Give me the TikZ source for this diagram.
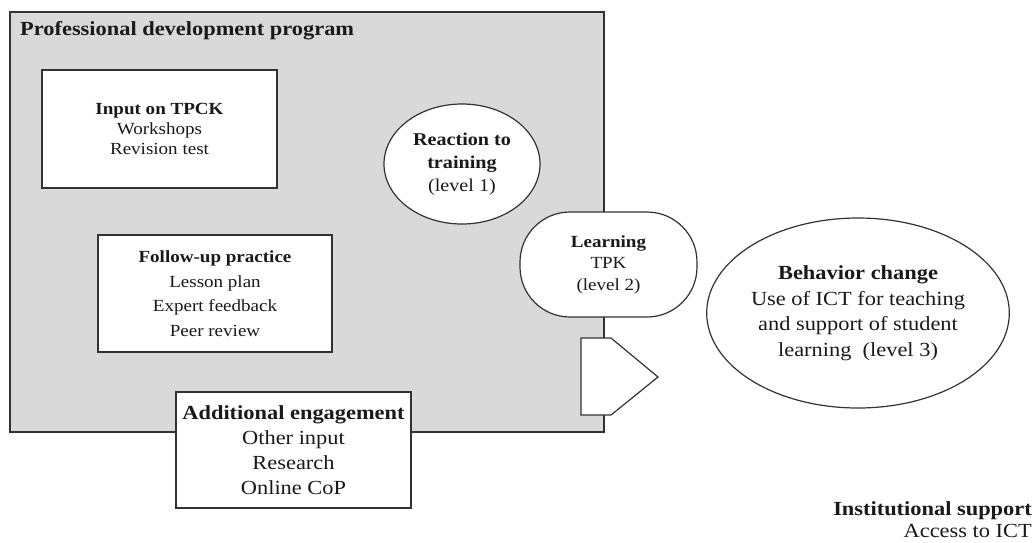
\documentclass[tikz,border=0pt]{standalone}
\usepackage{fontspec}
\setmainfont{Liberation Serif}[FakeStretch=1.12]
\usetikzlibrary{shapes.geometric}
\definecolor{pdgray}{RGB}{217,217,217}
\definecolor{edge}{RGB}{50,50,50}
\definecolor{ink}{RGB}{25,25,25}
\begin{document}
\begin{tikzpicture}[x=1pt,y=-1pt,
  box/.style={draw=edge, line width=1.4pt, fill=white, rectangle, inner sep=0pt, align=center, text=ink},
  oval/.style={draw=edge, line width=1.2pt, fill=white, ellipse, inner sep=0pt, align=center, text=ink},
  ]
\useasboundingbox (0,0) rectangle (1035,542);
% programme frame
\node[draw=edge, line width=1.6pt, fill=pdgray, minimum width=594pt, minimum height=420pt, inner sep=0pt] (pdp) at (307,222) {};
\node[anchor=west, inner sep=0pt, text=ink, font=\fontsize{20}{24}\selectfont\bfseries] (title) at (20,31) {Professional development program};
% boxes
\node[box, minimum width=235pt, minimum height=118pt, font=\fontsize{17}{20}\selectfont] (input) at (159.5,129) {\textbf{Input on TPCK}\\Workshops\\Revision test};
\node[box, minimum width=234pt, minimum height=117pt, font=\fontsize{17}{24.5}\selectfont] (follow) at (215,293.5) {\textbf{Follow-up practice}\\Lesson plan\\Expert feedback\\Peer review};
\node[box, minimum width=235pt, minimum height=116pt, font=\fontsize{20}{25}\selectfont] (add) at (293.5,450) {\textbf{Additional engagement}\\Other input\\Research\\Online CoP};
% ovals
\node[oval, minimum width=156pt, minimum height=120pt, font=\fontsize{18}{23}\selectfont] (react) at (462,164) {\textbf{Reaction to}\\\textbf{training}\\(level 1)};
\node[draw=edge, line width=1.2pt, fill=white, rectangle, rounded corners=50pt, inner sep=0pt, align=center, text=ink, minimum width=177pt, minimum height=105pt, font=\fontsize{17}{21.5}\selectfont] (learn) at (608.5,264.5) {\textbf{Learning}\\TPK\\(level 2)};
\node[oval, minimum width=277pt, minimum height=190pt, font=\fontsize{20}{25.5}\selectfont] (behav) at (858,313) {\textbf{Behavior change}\\Use of ICT for teaching\\and support of student\\learning\ \ (level 3)};
% pentagon arrow
\draw[draw=edge, line width=1.2pt, fill=white] (581,338) -- (611,338) -- (658,377) -- (611,415) -- (581,415) -- cycle;
% institutional support
\node[anchor=east, inner sep=0pt, align=right, text=ink, font=\fontsize{20}{22}\selectfont] (inst) at (1032,520) {\textbf{Institutional support}\\Access to ICT};
\end{tikzpicture}
\end{document}
